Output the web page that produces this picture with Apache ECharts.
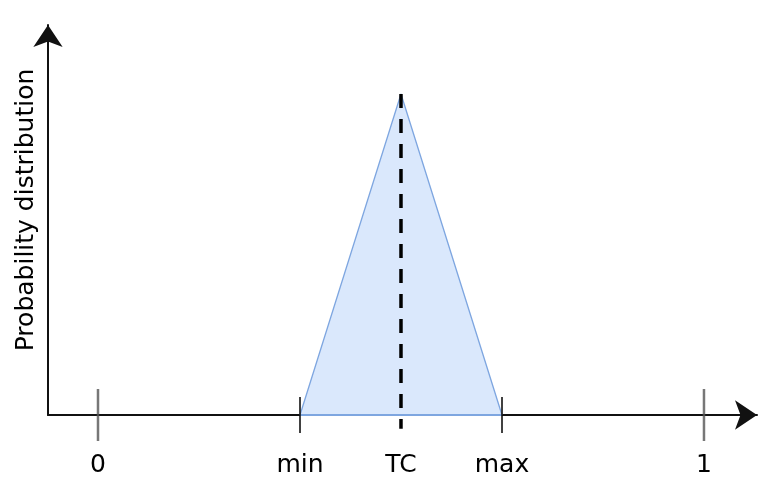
<!DOCTYPE html>
<html>
<head>
<meta charset="utf-8">
<script src="https://cdn.jsdelivr.net/npm/echarts@6/dist/echarts.min.js"></script>
<style>html,body{margin:0;padding:0;background:#fff}#c{width:768px;height:480px}</style>
</head>
<body>
<div id="c"></div>
<script>
// ---- data ----
var tickValues = [0, 1/3, 0.5, 2/3, 1];
var tickLabels = ['0', 'min', 'TC', 'max', '1'];
var majorTicks = [0, 1];          // long grey ticks
var minorTicks = [1/3, 2/3];      // short black ticks
var triangleX = [1/3, 0.5, 2/3];
var triangleY = [0, 1, 0];
var tcValue = 0.5;
var tcLineY = [1, -0.043];
var yAxisName = 'Probability distribution';

var FONT = '"DejaVu Sans", "Liberation Sans", Arial, sans-serif';

var triData = triangleX.map(function (x, i) { return [x, triangleY[i]]; });
var baseData = [[triangleX[0], 0], [triangleX[triangleX.length - 1], 0]];
var tcData = tcLineY.map(function (y) { return [tcValue, y]; });

var chart = echarts.init(document.getElementById('c'));
chart.setOption({
  animation: false,
  backgroundColor: '#fff',
  grid: { left: 48, right: 11, top: 25, bottom: 65, containLabel: false },
  xAxis: {
    type: 'value',
    min: -0.0825,
    max: 1.0875,
    splitLine: { show: false },
    axisTick: { show: false },
    axisLine: {
      show: true, onZero: true,
      symbol: ['none', 'arrow'], symbolSize: [22, 22],
      lineStyle: { color: '#111', width: 2 }
    },
    axisLabel: {
      show: true,
      customValues: tickValues,
      margin: 38,
      fontSize: 25,
      color: '#000',
      fontFamily: FONT,
      formatter: function (v) {
        var best = 0;
        for (var i = 0; i < tickValues.length; i++) {
          if (Math.abs(tickValues[i] - v) < Math.abs(tickValues[best] - v)) best = i;
        }
        return tickLabels[best];
      }
    }
  },
  yAxis: {
    type: 'value',
    min: 0,
    max: 1.215,
    splitLine: { show: false },
    axisTick: { show: false },
    axisLabel: { show: false },
    name: yAxisName,
    nameLocation: 'middle',
    nameGap: 9,
    nameTextStyle: { fontSize: 25, color: '#000', fontFamily: FONT, padding: [0, 0, 0, 20] },
    axisLine: {
      show: true, onZero: false,
      symbol: ['none', 'arrow'], symbolSize: [22, 22],
      lineStyle: { color: '#111', width: 2 }
    }
  },
  series: [
    {
      type: 'line',
      data: triData,
      symbol: 'none',
      clip: false,
      lineStyle: { color: '#7ea6e0', width: 1.3 },
      areaStyle: { color: '#dae8fc', opacity: 1 },
      z: 3
    },
    {
      type: 'line',
      data: baseData,
      symbol: 'none',
      clip: false,
      lineStyle: { color: '#7ea6e0', width: 2 },
      z: 4
    },
    {
      type: 'line',
      data: tcData,
      symbol: 'none',
      clip: false,
      lineStyle: { color: '#000', width: 3.5, type: [14, 11] },
      z: 5
    },
    {
      type: 'scatter',
      data: majorTicks.map(function (x) { return [x, 0]; }),
      symbol: 'rect',
      symbolSize: [2.5, 52],
      clip: false,
      itemStyle: { color: '#555' },
      z: 6
    },
    {
      type: 'scatter',
      data: minorTicks.map(function (x) { return [x, 0]; }),
      symbol: 'rect',
      symbolSize: [2, 36],
      clip: false,
      itemStyle: { color: '#111' },
      z: 6
    }
  ]
});
</script>
</body>
</html>
